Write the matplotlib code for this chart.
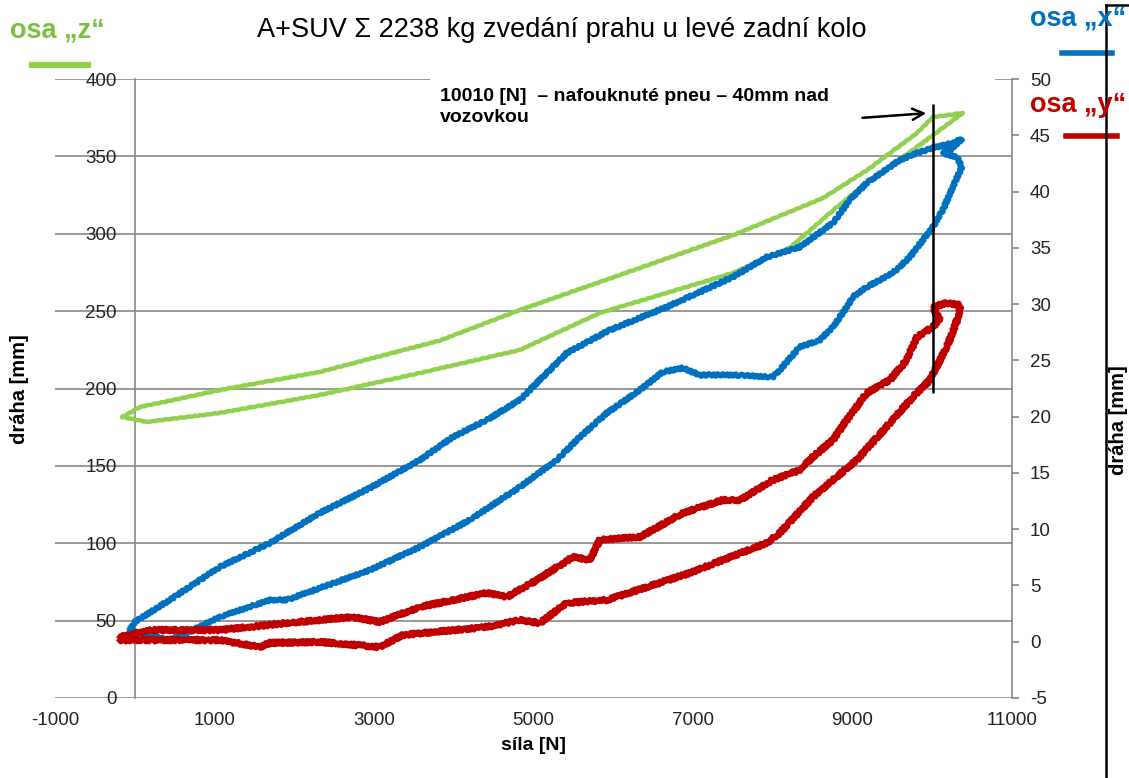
import numpy as np
import matplotlib.pyplot as plt
from matplotlib.patches import Rectangle
from matplotlib.lines import Line2D

# osa "z" - left axis [mm], closed loop (up branch then back)
z_sila = [-150, 63, 1066, 2320, 3825, 4828, 5831, 7499, 8628, 9179, 9806, 10007, 10383,
          9806, 9179, 8753, 8214, 7499, 5831, 4828, 3574, 2320, 1066, 150, -150]
z_draha = [181.6, 188, 199, 210.7, 231, 250.7, 268.8, 299, 323, 341, 365, 375.4, 378,
           356, 333, 315, 291, 274.6, 248.8, 224.9, 210, 195.8, 184.2, 178.4, 181.6]

# osa "x" - right axis [mm]
x_sila = [-63, 0, 439, 1066, 1693, 2320, 2947, 3574, 3988, 4414, 4828, 5417, 5957, 6671,
          7499, 7925, 8339, 8753, 8966, 9179, 9593, 9806, 10007, 10257, 10371,
          10220, 10132, 10308, 10371, 10257, 10132, 10007, 9719, 9505, 9179, 9004, 8928,
          8753, 8590, 8339, 8088, 8000, 7499, 7085, 6872, 6621, 6333, 5919, 5580, 5292,
          4828, 4201, 3574, 2947, 1906, 1693, 1066, 652, 439, 63, -63]
x_draha = [1.04, 1.75, 3.71, 6.64, 8.77, 11.44, 13.66, 16.15, 18.19, 19.70, 21.48, 25.65,
           27.70, 29.74, 32.41, 34.18, 35.07, 37.20, 39.25, 40.76, 42.80, 43.42, 43.87,
           44.31, 44.67,
           43.69, 43.42, 43.07, 42.18, 40.40, 38.36, 36.85, 34.18, 32.76, 31.52, 30.63,
           29.74, 27.96, 26.81, 26.19, 24.14, 23.52, 23.70, 23.70, 24.32, 23.97, 22.37,
           20.32, 18.19, 16.15, 13.75, 10.82, 8.42, 6.37, 3.71, 3.71, 2.20, 0.78, 0.15,
           0.78, 1.04]

# osa "y" - right axis [mm]
y_sila = [-188, 226, 1066, 1906, 2734, 3072, 3574, 4414, 4665, 5041, 5493, 5706, 5831,
          6333, 6872, 7374, 7587, 8000, 8339, 8502, 8753, 8928, 9179, 9468, 9681, 9806,
          10007, 10095, 10007, 10182, 10346,
          10346, 10182, 9969, 9756, 9468, 9054, 8753, 8502, 8088, 7925, 7374, 6960, 6421,
          5919, 5417, 5079, 4828, 4414, 3361, 3072, 2320, 1693, 1568, 1066, -188]
y_draha = [0.42, 1.04, 1.04, 1.66, 2.20, 1.75, 3.09, 4.33, 3.97, 5.48, 7.53, 7.26, 9.04,
           9.30, 11.44, 12.59, 12.59, 14.37, 15.26, 16.41, 17.92, 19.70, 22.10, 23.25,
           25.03, 27.07, 27.96, 28.59, 29.74, 30.10, 29.92,
           29.21, 26.19, 23.25, 21.74, 19.43, 16.15, 14.37, 12.86, 9.66, 8.77, 7.26, 6.11,
           4.86, 3.71, 3.44, 1.66, 1.93, 1.31, 0.60, -0.47, -0.02, -0.11, -0.47, 0.15, 0.15]

x_ticks = [-1000, 1000, 3000, 5000, 7000, 9000, 11000]
left_ticks = list(range(0, 401, 50))
right_ticks = list(range(-5, 51, 5))

# mark at 10010 N, drawn in left-axis units
sila_mez = 10010
mez_od, mez_do = 197, 384

GREEN = '#92D050'
BLUE = '#0070C0'
RED = '#C00000'
GRAY = '#888888'

plt.rcParams['font.family'] = ['Liberation Sans', 'DejaVu Sans']
plt.rcParams['axes.unicode_minus'] = False

fig = plt.figure(figsize=(11.29, 7.78), dpi=100)
ax = fig.add_axes([55 / 1129, 80 / 778, 957 / 1129, 619 / 778])
ax2 = ax.twinx()

ax.set_xlim(-1000, 11000)
ax.set_ylim(0, 400)
ax2.set_ylim(-5, 50)

ax.set_xticks(x_ticks)
ax.set_yticks(left_ticks)
ax2.set_yticks(right_ticks)

ax.set_axisbelow(True)
ax.yaxis.grid(True, color=GRAY, lw=1.2)
ax.xaxis.grid(False)

for s in ['top', 'right', 'bottom', 'left']:
    ax.spines[s].set_visible(False)
    ax2.spines[s].set_visible(False)
ax.spines['left'].set_visible(True)
ax.spines['left'].set_position(('data', 0))
ax.spines['left'].set_color(GRAY)
ax.spines['left'].set_linewidth(1.2)
ax2.spines['right'].set_visible(True)
ax2.spines['right'].set_color(GRAY)
ax2.spines['right'].set_linewidth(1.2)

ax.tick_params(axis='y', length=0, pad=13, labelsize=13.5, labelcolor='#222222')
ax.tick_params(axis='x', length=0, pad=10, labelsize=13.5, labelcolor='#222222')
ax2.tick_params(axis='y', direction='out', length=5, color=GRAY, width=1.2, pad=8,
                labelsize=13.5, labelcolor='#222222')

# white box behind the note
ax.add_patch(Rectangle((0.392, 0.885), 0.59, 0.135, transform=ax.transAxes,
                       facecolor='white', edgecolor='none', zorder=1, clip_on=False))

lz, = ax.plot(z_sila, z_draha, color=GREEN, lw=3.2, solid_joinstyle='round', zorder=3)
lx, = ax2.plot(x_sila, x_draha, color=BLUE, lw=3.8, solid_joinstyle='round', zorder=3)
ly, = ax2.plot(y_sila, y_draha, color=RED, lw=3.8, solid_joinstyle='round', zorder=3)
# measured traces are jittery
lz.set_sketch_params(0.3, 8, 2)
lx.set_sketch_params(1.2, 5, 2)
ly.set_sketch_params(1.8, 4, 2)


def to_right(v):
    return v * 55 / 400 - 5


ax2.vlines(sila_mez, to_right(mez_od), to_right(mez_do), color='black', lw=1.8, zorder=5)
ax2.annotate('', xy=(9960, to_right(378)), xytext=(9090, to_right(374.8)),
             arrowprops=dict(arrowstyle='->', color='black', lw=1.8, mutation_scale=20), zorder=5)

ax.text(0.402, 0.985, '10010 [N]  – nafouknuté pneu – 40mm nad\nvozovkou',
        transform=ax.transAxes, ha='left', va='top', fontsize=14, fontweight='bold',
        linespacing=1.3, zorder=6)

ax.set_xlabel('síla [N]', fontsize=14, fontweight='bold', labelpad=6)
fig.text(20 / 1129, 1 - 389 / 778, 'dráha [mm]', rotation=90, ha='center', va='center',
         fontsize=14.5, fontweight='bold')
fig.text(1118 / 1129, 1 - 420 / 778, 'dráha [mm]', rotation=90, ha='center', va='center',
         fontsize=14.5, fontweight='bold')

fig.text(562 / 1129, 1 - 30 / 778, 'A+SUV Σ 2238 kg zvedání prahu u levé zadní kolo',
         ha='center', va='center', fontsize=19.5)

fig.text(10 / 1129, 1 - 30 / 778, 'osa „z“', color='#7AC143', fontsize=19.5, fontweight='bold',
         ha='left', va='center')
fig.text(1030 / 1129, 1 - 18 / 778, 'osa „x“', color=BLUE, fontsize=19.5, fontweight='bold',
         ha='left', va='center')
fig.text(1030 / 1129, 1 - 105 / 778, 'osa „y“', color=RED, fontsize=19.5, fontweight='bold',
         ha='left', va='center')

fig.add_artist(Line2D([32 / 1129, 88 / 1129], [1 - 65 / 778] * 2, color=GREEN, lw=4.5))
fig.add_artist(Line2D([1062 / 1129, 1112 / 1129], [1 - 53 / 778] * 2, color=BLUE, lw=4))
fig.add_artist(Line2D([1066 / 1129, 1117 / 1129], [1 - 136 / 778] * 2, color=RED, lw=4))

# frame edge on the right
fig.add_artist(Line2D([1106 / 1129, 1106 / 1129], [0, 1 - 5 / 778], color='black', lw=1.8))
fig.add_artist(Line2D([1106 / 1129, 1], [1 - 5 / 778] * 2, color='black', lw=1.8))

fig.savefig('out.png', dpi=100)
